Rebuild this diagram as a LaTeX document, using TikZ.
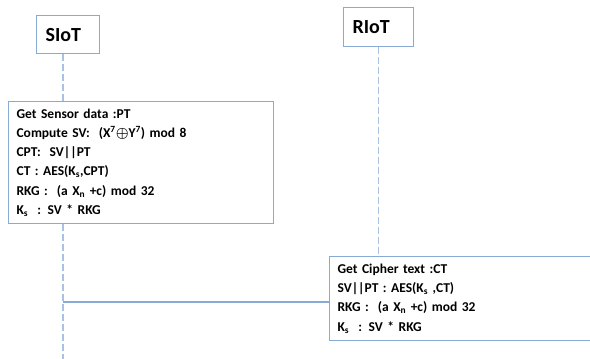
\documentclass[tikz,border=0pt]{standalone}
\usepackage{fontspec}
\setmainfont{Carlito}
\usetikzlibrary{positioning}
\definecolor{boxblue}{HTML}{8AAAD6}
\definecolor{lifeblue}{HTML}{A9C2E4}

\tikzset{
  actor/.style={draw=boxblue, line width=1.2pt, fill=white, align=left,
    text width=#1, inner xsep=9pt, minimum height=38pt,
    font=\fontsize{20}{24}\selectfont\bfseries},
  notebox/.style={draw=boxblue, line width=1.2pt, fill=white, align=left,
    inner xsep=8pt, font=\fontsize{13.5}{19.2}\selectfont\bfseries},
  lifeline/.style={draw=lifeblue, line width=1.5pt, dash pattern=on 7pt off 3pt},
  msg/.style={draw=boxblue, line width=1.2pt}
}

\begin{document}
\begin{tikzpicture}[x=1pt,y=-1pt]
\useasboundingbox (0,0) rectangle (590,359);

% participants
\node[actor=45pt, anchor=north west] (siot) at (36,15) {SIoT};
\node[actor=52pt, anchor=north west, minimum height=39pt] (riot) at (343,7) {RIoT};

% sender side
\node[notebox, text width=249pt, minimum height=122pt, anchor=north west] (sense) at (8,101)
  {Get Sensor data :PT\\
   Compute SV:~ (X\textsuperscript{7}{\boldmath$\oplus$}Y\textsuperscript{7}) mod 8\\
   CPT:~ SV||PT\\
   CT : AES(K\textsubscript{s},CPT)\\
   RKG :~ (a X\textsubscript{n} +c) mod 32\\
   K\textsubscript{s} ~: SV * RKG};

% receiver side
\node[notebox, text width=255pt, minimum height=84pt, anchor=north west] (recv) at (329,256)
  {Get Cipher text :CT\\
   SV||PT : AES(K\textsubscript{s} ,CT)\\
   RKG :~ (a X\textsubscript{n} +c) mod 32\\
   K\textsubscript{s} ~: SV * RKG};

% lifelines
\coordinate (sx) at (63,0);
\coordinate (send) at (63,359);
\draw[lifeline] (siot.south -| sx) -- (sense.north -| sx);
\draw[lifeline] (sense.south -| sx) -- (send);
\draw[lifeline] (riot.south) -- (recv.north -| riot.south);

% message
\coordinate (msgstart) at (63,302);
\draw[msg] (msgstart) -- (msgstart -| recv.west);
\end{tikzpicture}
\end{document}
